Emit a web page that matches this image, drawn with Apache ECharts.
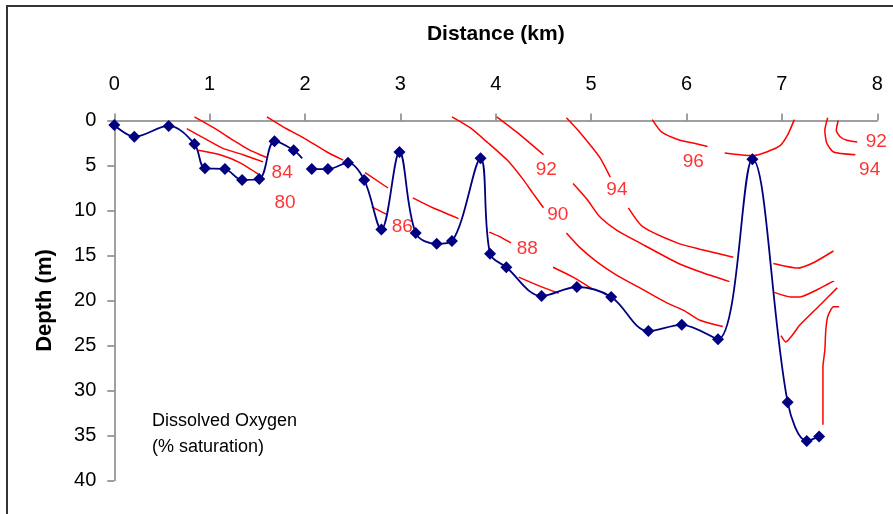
<!DOCTYPE html>
<html>
<head>
<meta charset="utf-8">
<script src="https://cdn.jsdelivr.net/npm/echarts@6/dist/echarts.min.js"></script>
<style>
  html, body { margin: 0; padding: 0; background: #fff; }
  #chart { width: 893px; height: 514px; }
</style>
</head>
<body>
<div id="chart"></div>
<script>
// distance (km), depth (m)
const xTicks = [0, 1, 2, 3, 4, 5, 6, 7, 8]
const yTicks = [0, 5, 10, 15, 20, 25, 30, 35, 40]

// bottom profile, split where the trace breaks near 2 km
const profileWest = [
  [0.0, 0.5], [0.21, 1.8], [0.57, 0.6], [0.84, 2.6], [0.95, 5.3],
  [1.16, 5.4], [1.34, 6.6], [1.52, 6.5], [1.68, 2.3], [1.88, 3.3]
]
const profileStub = [1.97, 4.2]
const profileEast = [
  [2.07, 5.4], [2.24, 5.4], [2.45, 4.7], [2.62, 6.6], [2.80, 12.1],
  [2.99, 3.5], [3.16, 12.5], [3.38, 13.7], [3.54, 13.4], [3.84, 4.2],
  [3.94, 14.8], [4.11, 16.3], [4.48, 19.5], [4.85, 18.5], [5.21, 19.6],
  [5.60, 23.4], [5.95, 22.7], [6.33, 24.3], [6.69, 4.3], [7.06, 31.3],
  [7.26, 35.6], [7.39, 35.1]
]

// dissolved oxygen isolines (null = break in the line)
const isoA = [[0.84, -0.4], [1.04, 0.8], [1.25, 2.2], [1.42, 3.3], [1.60, 4.1]]
const isoB = [[0.76, 0.9], [0.93, 1.9], [1.14, 3.1], [1.35, 3.8], [1.56, 4.6]]
const isoC = [[0.88, 3.3], [1.11, 3.8], [1.32, 4.7], [1.53, 6.1]]
const isoD = [
  [1.60, -0.4], [1.77, 0.7], [1.98, 1.9], [2.23, 3.5], [2.40, 4.4], null,
  [2.63, 5.8], [2.87, 7.5], null,
  [3.13, 8.6], [3.34, 9.7], [3.61, 10.9]
]
const isoE = [[2.70, 9.6], [2.85, 10.4]]
const isoF = [[3.54, -0.4], [3.73, 0.8], [3.92, 2.5], [4.12, 4.4], [4.29, 6.6], [4.39, 8.1], [4.50, 9.7]]
const isoG = [[4.01, -0.4], [4.22, 1.3], [4.50, 3.8]]
const isoH = [
  [4.74, -0.3], [4.88, 1.3], [5.09, 4.1], [5.20, 6.3], null,
  [5.39, 9.7], [5.54, 11.8], [5.90, 13.6], [6.14, 14.3], [6.49, 15.2]
]
const isoI = [[3.93, 12.4], [4.04, 12.9], [4.16, 13.6]]
const isoJ = [[4.81, 7.0], [4.96, 8.8], [5.09, 10.7], [5.27, 12.2], [5.51, 13.6], [5.90, 15.8], [6.14, 16.8], [6.45, 17.9]]
const isoK = [[4.74, 12.5], [4.88, 14.1], [5.06, 15.7], [5.27, 17.2], [5.51, 18.6], [5.80, 20.3], [5.97, 21.1], [6.14, 22.2], [6.38, 22.9]]
const isoL = [[4.24, 17.4], [4.46, 18.4], [4.66, 19.2]]
const isoM = [[4.60, 16.3], [4.81, 17.4], [5.01, 18.7]]
const iso96 = [
  [5.64, -0.1], [5.74, 1.3], [5.93, 2.2], [6.07, 2.5], [6.22, 2.9], null,
  [6.40, 3.6], [6.56, 3.8], [6.70, 3.9], [6.84, 3.5], [6.98, 2.8], [7.06, 1.6], [7.13, -0.1]
]
const isoN94 = [[7.48, -0.3], [7.45, 1.1], [7.47, 2.5], [7.54, 3.5], [7.77, 3.8]]
const isoN92 = [[7.59, 0.0], [7.57, 1.1], [7.61, 1.8], [7.68, 2.2], [7.79, 2.4]]
const isoP = [[6.91, 15.9], [7.16, 16.4], [7.33, 15.8], [7.54, 14.5]]
const isoQ = [[6.92, 19.1], [7.09, 19.6], [7.19, 19.6], [7.37, 18.8], [7.55, 17.8]]
const isoR = [[7.58, 18.6], [7.40, 20.5], [7.19, 22.7], [7.04, 24.6], [6.99, 23.9]]
const isoS = [[7.60, 20.7], [7.54, 20.7], [7.48, 21.8], [7.46, 23.3], [7.45, 25.5], [7.43, 27.4], [7.43, 33.8]]

const isolines = [isoA, isoB, isoC, isoD, isoE, isoF, isoG, isoH, isoI, isoJ, isoK,
  isoL, isoM, iso96, isoN94, isoN92, isoP, isoQ, isoR, isoS]

// contour labels: x, depth, text
const contourLabels = [
  [1.76, 5.8, '84'], [1.79, 9.1, '80'], [3.02, 11.8, '86'], [4.53, 5.5, '92'],
  [4.65, 10.5, '90'], [4.33, 14.3, '88'], [5.27, 7.7, '94'], [6.07, 4.6, '96'],
  [7.99, 2.4, '92'], [7.92, 5.5, '94']
]

const FONT = "'Liberation Sans', Arial, sans-serif"
const RED = '#ff0000'
const NAVY = '#000080'

function splitSegments(pts) {
  const segs = [[]]
  pts.forEach(p => {
    if (p === null) segs.push([])
    else segs[segs.length - 1].push(p)
  })
  return segs.filter(s => s.length > 1)
}

const series = []

isolines.forEach(line => {
  splitSegments(line).forEach(seg => {
    series.push({
      type: 'line',
      data: seg,
      symbol: 'none',
      clip: false,
      smooth: 0.2,
      lineStyle: { color: RED, width: 1.5 },
      z: 2,
      silent: true
    })
  })
})

const profileStyle = {
  type: 'line',
  smooth: 0.35,
  symbol: 'diamond',
  symbolSize: 12,
  clip: false,
  lineStyle: { color: NAVY, width: 1.8 },
  itemStyle: { color: NAVY },
  z: 3
}
series.push(Object.assign({}, profileStyle, {
  data: profileWest.concat([{ value: profileStub, symbol: 'none' }])
}))
series.push(Object.assign({}, profileStyle, { data: profileEast }))

series.push({
  type: 'scatter',
  data: contourLabels.map(d => ({ value: [d[0], d[1]], name: d[2] })),
  symbolSize: 0,
  clip: false,
  z: 4,
  label: {
    show: true,
    position: 'inside',
    formatter: p => p.name,
    color: RED,
    fontFamily: FONT,
    fontSize: 19
  }
})

const chart = echarts.init(document.getElementById('chart'), null, { renderer: 'canvas' })

chart.setOption({
  animation: false,
  backgroundColor: '#fff',
  grid: { left: 114.3, right: 15.7, top: 120.5, bottom: 33.5 },
  xAxis: {
    type: 'value',
    position: 'top',
    min: xTicks[0],
    max: xTicks[xTicks.length - 1],
    interval: 1,
    name: 'Distance (km)',
    nameLocation: 'middle',
    nameGap: 76,
    nameTextStyle: { fontFamily: FONT, fontSize: 21, fontWeight: 'bold', color: '#000' },
    axisLine: { show: true, lineStyle: { color: '#808080', width: 1.5 } },
    axisTick: { show: true, inside: false, length: 7, lineStyle: { color: '#808080', width: 1.5 } },
    axisLabel: { fontFamily: FONT, fontSize: 20, color: '#000', margin: 26 },
    splitLine: { show: false }
  },
  yAxis: {
    type: 'value',
    inverse: true,
    min: yTicks[0],
    max: yTicks[yTicks.length - 1],
    interval: 5,
    name: 'Depth (m)',
    nameLocation: 'middle',
    nameGap: 58,
    nameTextStyle: { fontFamily: FONT, fontSize: 22, fontWeight: 'bold', color: '#000' },
    axisLine: { show: true, lineStyle: { color: '#808080', width: 1.5 } },
    axisTick: { show: true, inside: false, length: 7, lineStyle: { color: '#808080', width: 1.5 } },
    axisLabel: { fontFamily: FONT, fontSize: 20, color: '#000', margin: 18 },
    splitLine: { show: false }
  },
  graphic: [
    {
      type: 'rect',
      shape: { x: 7, y: 6, width: 1000, height: 1000 },
      style: { fill: 'none', stroke: '#333', lineWidth: 2 },
      silent: true,
      z: -1
    },
    {
      type: 'text',
      left: 152,
      top: 408,
      style: {
        text: 'Dissolved Oxygen\n(% saturation)',
        font: '18px ' + FONT,
        fill: '#000',
        lineHeight: 26
      }
    }
  ],
  series: series
})
</script>
</body>
</html>
